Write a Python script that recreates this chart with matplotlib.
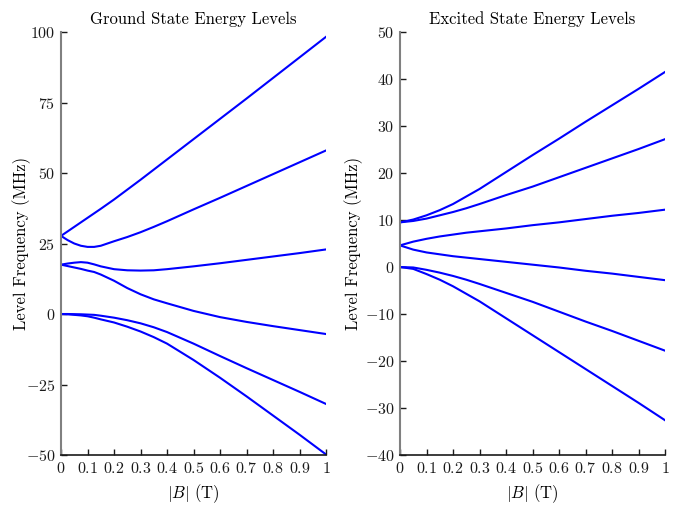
import matplotlib
matplotlib.use("Agg")
import matplotlib.pyplot as plt

plt.rcParams['font.family'] = 'serif'
plt.rcParams['font.serif'] = ['cmr10']
plt.rcParams['mathtext.fontset'] = 'cm'
plt.rcParams['axes.formatter.use_mathtext'] = True

b_ground = [0, 0.025, 0.05, 0.075, 0.1, 0.125, 0.15, 0.2, 0.25, 0.3, 0.35, 0.4, 0.5, 0.6, 0.7, 0.8, 0.9, 1.0]
g1 = [27.7, 29.3, 30.9, 32.5, 34.1, 35.7, 37.3, 40.6, 44.1, 47.6, 51.2, 54.8, 62.0, 69.2, 76.4, 83.7, 91.0, 98.3]
g2 = [27.7, 26.2, 25.0, 24.2, 23.8, 23.8, 24.2, 25.8, 27.3, 29.0, 30.9, 32.9, 37.1, 41.2, 45.4, 49.6, 53.8, 58.0]
g3 = [17.5, 17.9, 18.2, 18.4, 18.2, 17.6, 16.9, 15.9, 15.5, 15.4, 15.5, 15.9, 16.9, 18.0, 19.2, 20.4, 21.6, 22.9]
g4 = [17.5, 17.0, 16.5, 16.0, 15.4, 14.9, 14.0, 11.8, 9.2, 7.0, 5.2, 3.8, 1.1, -1.1, -2.8, -4.3, -5.7, -7.1]
g5 = [0.0, 0.0, -0.05, -0.1, -0.2, -0.3, -0.6, -1.3, -2.2, -3.3, -4.7, -6.4, -10.5, -14.9, -19.2, -23.4, -27.6, -31.9]
g6 = [0.0, -0.1, -0.3, -0.5, -0.8, -1.3, -1.9, -3.0, -4.5, -6.2, -8.2, -10.5, -16.3, -22.6, -29.2, -36.0, -42.8, -49.8]

b_excited = [0, 0.05, 0.1, 0.15, 0.2, 0.25, 0.3, 0.4, 0.5, 0.6, 0.7, 0.8, 0.9, 1.0]
e1 = [9.5, 10.1, 11.0, 12.1, 13.4, 15.0, 16.6, 20.2, 23.8, 27.3, 30.9, 34.4, 37.9, 41.5]
e2 = [9.5, 9.8, 10.3, 11.0, 11.7, 12.5, 13.4, 15.3, 17.1, 19.1, 21.1, 23.1, 25.1, 27.2]
e3 = [4.6, 5.4, 6.0, 6.5, 6.9, 7.3, 7.6, 8.2, 8.9, 9.5, 10.2, 10.9, 11.5, 12.2]
e4 = [4.6, 3.7, 3.1, 2.7, 2.3, 2.0, 1.7, 1.1, 0.5, -0.1, -0.8, -1.4, -2.1, -2.8]
e5 = [0.0, -0.1, -0.6, -1.2, -1.9, -2.7, -3.6, -5.5, -7.4, -9.5, -11.6, -13.6, -15.7, -17.8]
e6 = [0.0, -0.4, -1.5, -2.7, -4.1, -5.7, -7.3, -10.9, -14.5, -18.1, -21.7, -25.3, -28.9, -32.6]

xticks = [0, 0.1, 0.2, 0.3, 0.4, 0.5, 0.6, 0.7, 0.8, 0.9, 1]
xlabels = ['0', '0.1', '0.2', '0.3', '0.4', '0.5', '0.6', '0.7', '0.8', '0.9', '1']
g_ticks = [-50, -25, 0, 25, 50, 75, 100]
e_ticks = [-40, -30, -20, -10, 0, 10, 20, 30, 40, 50]

fig = plt.figure(figsize=(6.75, 5.05), dpi=100)
ax1 = fig.add_axes([0.0904, 0.099, 0.3926, 0.8376])
ax2 = fig.add_axes([0.5926, 0.099, 0.3926, 0.8376])

for ax, b, series, yt, title, ylab_x in [
    (ax1, b_ground, [g1, g2, g3, g4, g5, g6], g_ticks, 'Ground State Energy Levels', -0.115),
    (ax2, b_excited, [e1, e2, e3, e4, e5, e6], e_ticks, 'Excited State Energy Levels', -0.14),
]:
    for s in series:
        ax.plot(b, s, color='#0000ff', linewidth=1.5)
    ax.set_xlim(0, 1)
    ax.set_ylim(yt[0], yt[-1])
    ax.set_xticks(xticks)
    ax.set_xticklabels(['$%s$' % l for l in xlabels])
    ax.set_yticks(yt)
    ax.set_yticklabels(['$%d$' % t for t in yt])
    ax.spines['top'].set_visible(False)
    ax.spines['right'].set_visible(False)
    ax.spines['left'].set_color('0.5')
    ax.spines['left'].set_linewidth(1.5)
    ax.spines['bottom'].set_color('0.1')
    ax.spines['bottom'].set_linewidth(1.2)
    ax.tick_params(direction='in', length=4, width=1, labelsize=11.5, colors='0.1', pad=4)
    ax.set_title(title, fontsize=12, pad=6)
    ax.set_xlabel('$|B|$ (T)', fontsize=12, labelpad=5)
    ax.set_ylabel('Level Frequency (MHz)', fontsize=12)
    ax.yaxis.set_label_coords(ylab_x, 0.5)

fig.savefig('out.png', dpi=100)
